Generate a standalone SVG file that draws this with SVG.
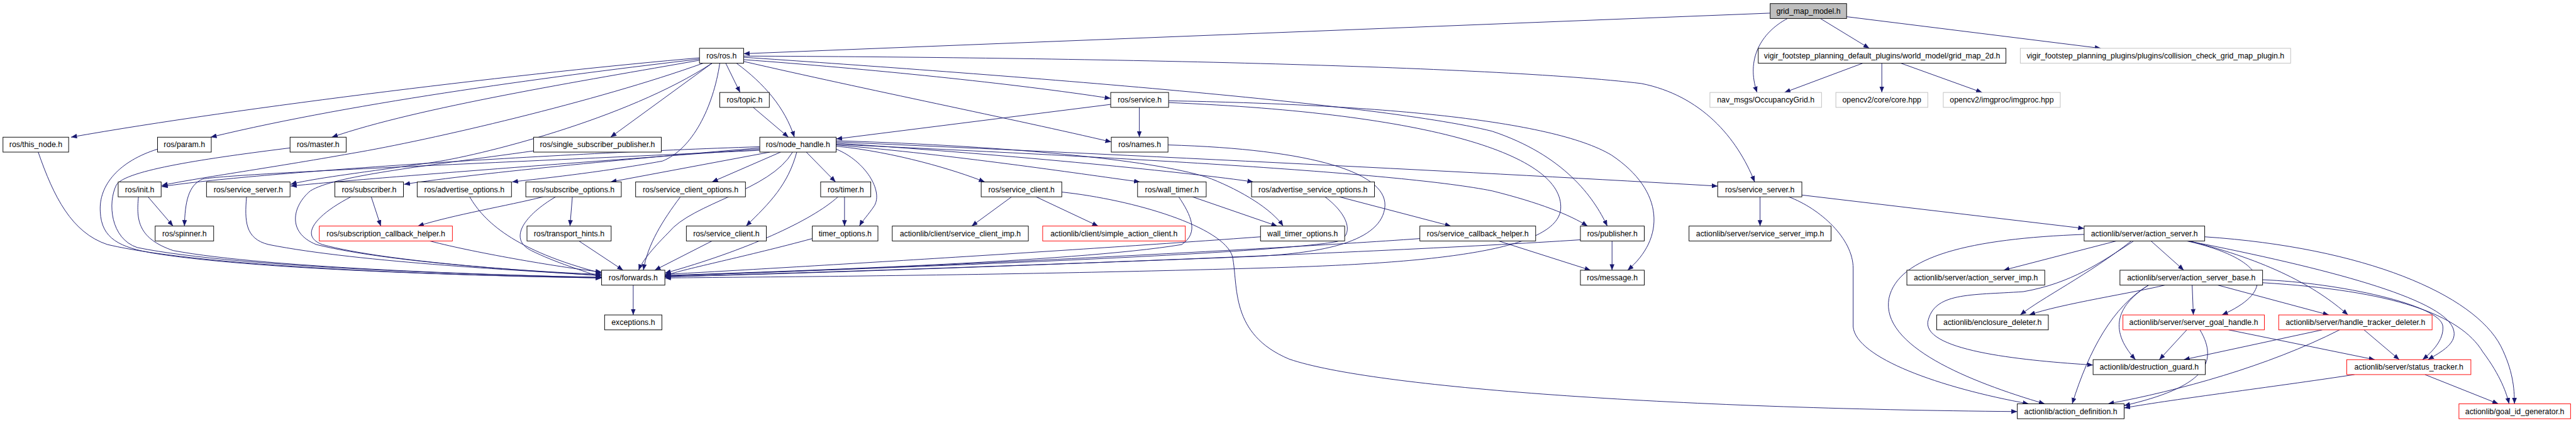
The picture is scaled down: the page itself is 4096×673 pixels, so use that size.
<svg xmlns="http://www.w3.org/2000/svg" width="4096" height="673" viewBox="0 0 4096 673">
<style>
.bg{fill:#fff}
.n rect{fill:#fff;stroke:#000;stroke-width:1}
.r rect{fill:#fff;stroke:#ff0000;stroke-width:1}
.g rect{fill:#fff;stroke:#bfbfbf;stroke-width:1}
.root rect{fill:#bfbfbf;stroke:#000;stroke-width:1}
text{font-family:"Liberation Sans",Arial,sans-serif;font-size:13px;text-anchor:middle;fill:#000}
#edges path{fill:none;stroke:#191970;stroke-width:1;marker-end:url(#a)}
</style>
<defs>
<marker id="a" markerWidth="10" markerHeight="8" refX="10" refY="4" orient="auto" markerUnits="userSpaceOnUse"><path d="M0,0 L10,4 L0,8 z" fill="#191970"/></marker>
</defs>
<rect class="bg" x="0" y="0" width="4096" height="673"/>
<g transform="scale(0.949)">
<g id="edges">
<path d="M2966,22 L1246,90"/>
<path d="M2995,31 C2950,55 2925,100 2944,155"/>
<path d="M3050,31 L3132,81"/>
<path d="M3094,28 L3520,81"/>
<path d="M3121,106 L2990,155"/>
<path d="M3153,106 L3153,155"/>
<path d="M3185,106 L3321,155"/>
<path d="M1172,97 C900,120 400,180 119,230"/>
<path d="M1172,99 C950,125 600,170 353,230"/>
<path d="M1172,101 C980,135 700,180 556,230"/>
<path d="M1178,106 C1000,170 720,235 590,257 C450,282 320,300 271,311"/>
<path d="M1193,106 C1050,200 800,262 720,273 C600,290 520,300 487,309"/>
<path d="M1193,106 L1023,230"/>
<path d="M1216,106 L1240,155"/>
<path d="M1234,106 C1280,140 1315,180 1331,230"/>
<path d="M1262,180 L1321,230"/>
<path d="M1206,106 C1195,180 1160,250 1110,270 C1000,290 900,300 858,305"/>
<path d="M1246,100 C1450,115 1700,140 1861,165"/>
<path d="M1246,103 C1450,150 1700,200 1862,238"/>
<path d="M1246,96 C1600,120 2300,170 2500,220 C2620,260 2670,330 2693,379"/>
<path d="M1246,94 C1800,96 2500,110 2750,140 C2850,160 2910,230 2940,305"/>
<path d="M1861,175 L1401,233"/>
<path d="M1909,180 L1909,230"/>
<path d="M1958,169 C2300,175 2600,200 2700,260 C2790,320 2790,400 2727,453"/>
<path d="M1958,172 C2400,190 2620,260 2615,350 C2610,420 2400,440 2160,448 C1700,462 1300,464 1114,466"/>
<path d="M1957,243 C2200,250 2330,290 2320,350 C2310,410 2200,425 2100,430 C1600,450 1250,460 1114,464"/>
<path d="M1328,255 C1290,320 1160,340 1120,390 C1090,420 1075,440 1070,453"/>
<path d="M1335,255 C1320,310 1290,340 1250,379"/>
<path d="M1351,255 L1400,305"/>
<path d="M1308,255 L1193,305"/>
<path d="M1290,255 L1023,305"/>
<path d="M1273,248 C1100,262 800,290 677,309"/>
<path d="M1273,250 C1000,270 600,300 487,312"/>
<path d="M1273,246 C900,258 400,292 271,313"/>
<path d="M1273,252 C900,270 400,290 340,300 C315,310 310,340 309,379"/>
<path d="M1401,245 C1500,255 1600,285 1650,305"/>
<path d="M1401,243 C1600,260 1800,290 1910,305"/>
<path d="M1401,240 C1700,260 2000,290 2100,305"/>
<path d="M1401,238 C1900,260 2500,290 2878,312"/>
<path d="M1401,242 C1900,265 2350,290 2500,320 C2580,340 2630,360 2660,379"/>
<path d="M1401,250 C1450,270 1480,320 1465,345 C1455,360 1445,370 1440,379"/>
<path d="M1401,236 C1700,245 1950,270 2030,300 C2080,320 2130,350 2150,379"/>
<path d="M1415,330 L1415,379"/>
<path d="M1404,330 C1360,370 1250,420 1114,458"/>
<path d="M1361,400 C1250,430 1150,450 1114,462"/>
<path d="M1998,330 L2140,379"/>
<path d="M1975,330 C1995,360 2010,390 1980,410 C1800,440 1300,455 1114,462"/>
<path d="M2112,397 C1800,420 1300,450 1114,460"/>
<path d="M1695,330 L1628,379"/>
<path d="M1736,330 L1840,379"/>
<path d="M1779,322 C1900,335 2050,380 2065,430 C2075,480 2060,560 2160,602 C2300,650 2800,685 3380,690"/>
<path d="M2220,330 C2260,360 2270,395 2240,405 C2100,430 1300,455 1114,463"/>
<path d="M2244,330 L2431,379"/>
<path d="M2379,400 C2100,420 1400,455 1114,462"/>
<path d="M2511,404 L2665,453"/>
<path d="M2648,402 C2300,425 1400,458 1114,464"/>
<path d="M2701,404 L2701,453"/>
<path d="M622,330 L638,379"/>
<path d="M588,330 C530,360 500,395 540,410 C650,440 900,455 1008,462"/>
<path d="M910,330 C850,345 760,360 700,379"/>
<path d="M959,330 L955,379"/>
<path d="M931,330 C880,360 850,400 890,420 C930,440 980,455 1008,465"/>
<path d="M787,330 C810,370 860,420 1008,458"/>
<path d="M720,404 C800,425 950,450 1008,456"/>
<path d="M970,404 L1044,453"/>
<path d="M1193,404 L1097,453"/>
<path d="M1140,330 C1110,370 1085,410 1078,453"/>
<path d="M413,330 C410,370 410,400 450,410 C600,440 900,455 1008,462"/>
<path d="M232,330 C228,370 232,400 290,420 C450,450 850,462 1008,465"/>
<path d="M248,330 L290,379"/>
<path d="M64,255 C90,330 120,390 180,410 C350,450 800,463 1008,466"/>
<path d="M264,250 C200,270 165,310 168,355 C170,400 200,415 260,425 C450,455 850,463 1008,466"/>
<path d="M486,248 C350,265 210,285 195,310 C180,340 185,400 230,415 C400,450 850,462 1008,465"/>
<path d="M894,253 C700,280 560,295 520,320 C490,345 480,390 530,410 C650,440 900,456 1008,460"/>
<path d="M1061,478 L1061,528"/>
<path d="M2949,330 L2949,379"/>
<path d="M3019,327 L3492,383"/>
<path d="M2997,330 C3050,350 3105,400 3105,450 L3105,548 C3110,600 3250,650 3399,677"/>
<path d="M3546,404 L3357,453"/>
<path d="M3492,393 C3300,400 3180,430 3165,500 C3150,580 3300,640 3426,677"/>
<path d="M3571,404 C3500,460 3420,500 3385,528"/>
<path d="M3575,404 C3520,440 3470,475 3390,489 C3300,495 3240,490 3230,540 C3225,590 3400,605 3507,612"/>
<path d="M3604,404 L3659,453"/>
<path d="M3664,404 C3780,430 3830,480 3723,528"/>
<path d="M3668,404 C3800,437 3880,480 3934,528"/>
<path d="M3666,404 C3900,450 4090,500 4110,550 C4120,575 4090,590 4068,603"/>
<path d="M3694,397 C3963,415 4145,494 4190,580 C4210,620 4213,650 4213,677"/>
<path d="M3673,478 L3675,528"/>
<path d="M3716,478 L3902,528"/>
<path d="M3791,469 C3918,474 4090,511 4093,547 C4095,570 4075,590 4059,603"/>
<path d="M3791,474 C4009,487 4122,527 4160,590 C4190,630 4200,660 4204,677"/>
<path d="M3627,478 C3580,490 3450,510 3400,528"/>
<path d="M3600,478 C3550,510 3530,550 3578,603"/>
<path d="M3600,478 C3540,514 3500,587 3472,677"/>
<path d="M3664,553 L3618,603"/>
<path d="M3734,553 L3979,603"/>
<path d="M3686,553 C3720,610 3690,650 3559,680"/>
<path d="M3891,553 L3659,603"/>
<path d="M3961,553 L4020,603"/>
<path d="M3920,553 C3800,614 3650,655 3532,677"/>
<path d="M4063,628 L4186,677"/>
<path d="M3945,628 C3800,650 3650,668 3559,684"/>
</g>
<g id="n_root" class="root"><rect x="2966" y="6" width="128" height="25"/><text x="3030" y="23">grid_map_model.h</text></g>
<g id="n_ros" class="n"><rect x="1172" y="81" width="74" height="25"/><text x="1209" y="98">ros/ros.h</text></g>
<g id="n_vigir_def" class="n"><rect x="2946" y="81" width="415" height="25"/><text x="3153.5" y="98">vigir_footstep_planning_default_plugins/world_model/grid_map_2d.h</text></g>
<g id="n_vigir_plug" class="g"><rect x="3385" y="81" width="453" height="25"/><text x="3611.5" y="98">vigir_footstep_planning_plugins/plugins/collision_check_grid_map_plugin.h</text></g>
<g id="n_topic" class="n"><rect x="1206" y="155" width="83" height="25"/><text x="1247.5" y="172">ros/topic.h</text></g>
<g id="n_service" class="n"><rect x="1861" y="155" width="97" height="25"/><text x="1909.5" y="172">ros/service.h</text></g>
<g id="n_nav" class="g"><rect x="2865" y="155" width="187" height="25"/><text x="2958.5" y="172">nav_msgs/OccupancyGrid.h</text></g>
<g id="n_cvcore" class="g"><rect x="3076" y="155" width="154" height="25"/><text x="3153" y="172">opencv2/core/core.hpp</text></g>
<g id="n_cvimg" class="g"><rect x="3256" y="155" width="196" height="25"/><text x="3354" y="172">opencv2/imgproc/imgproc.hpp</text></g>
<g id="n_this_node" class="n"><rect x="5" y="230" width="110" height="25"/><text x="60" y="247">ros/this_node.h</text></g>
<g id="n_param" class="n"><rect x="264" y="230" width="90" height="25"/><text x="309" y="247">ros/param.h</text></g>
<g id="n_master" class="n"><rect x="486" y="230" width="94" height="25"/><text x="533" y="247">ros/master.h</text></g>
<g id="n_ssp" class="n"><rect x="894" y="230" width="214" height="25"/><text x="1001" y="247">ros/single_subscriber_publisher.h</text></g>
<g id="n_node_handle" class="n"><rect x="1273" y="230" width="128" height="25"/><text x="1337" y="247">ros/node_handle.h</text></g>
<g id="n_names" class="n"><rect x="1862" y="230" width="95" height="25"/><text x="1909.5" y="247">ros/names.h</text></g>
<g id="n_init" class="n"><rect x="198" y="305" width="72" height="25"/><text x="234" y="322">ros/init.h</text></g>
<g id="n_service_server_l" class="n"><rect x="346" y="305" width="140" height="25"/><text x="416" y="322">ros/service_server.h</text></g>
<g id="n_subscriber" class="n"><rect x="561" y="305" width="115" height="25"/><text x="618.5" y="322">ros/subscriber.h</text></g>
<g id="n_advertise_options" class="n"><rect x="699" y="305" width="158" height="25"/><text x="778" y="322">ros/advertise_options.h</text></g>
<g id="n_subscribe_options" class="n"><rect x="881" y="305" width="160" height="25"/><text x="961" y="322">ros/subscribe_options.h</text></g>
<g id="n_service_client_options" class="n"><rect x="1065" y="305" width="184" height="25"/><text x="1157" y="322">ros/service_client_options.h</text></g>
<g id="n_timer" class="n"><rect x="1375" y="305" width="84" height="25"/><text x="1417" y="322">ros/timer.h</text></g>
<g id="n_service_client_u" class="n"><rect x="1644" y="305" width="135" height="25"/><text x="1711.5" y="322">ros/service_client.h</text></g>
<g id="n_wall_timer" class="n"><rect x="1906" y="305" width="115" height="25"/><text x="1963.5" y="322">ros/wall_timer.h</text></g>
<g id="n_adv_srv_options" class="n"><rect x="2097" y="305" width="206" height="25"/><text x="2200" y="322">ros/advertise_service_options.h</text></g>
<g id="n_service_server_r" class="n"><rect x="2878" y="305" width="141" height="25"/><text x="2948.5" y="322">ros/service_server.h</text></g>
<g id="n_spinner" class="n"><rect x="260" y="379" width="98" height="25"/><text x="309" y="396">ros/spinner.h</text></g>
<g id="n_sub_cb_helper" class="r"><rect x="535" y="379" width="223" height="25"/><text x="646.5" y="396">ros/subscription_callback_helper.h</text></g>
<g id="n_transport_hints" class="n"><rect x="883" y="379" width="141" height="25"/><text x="953.5" y="396">ros/transport_hints.h</text></g>
<g id="n_service_client_l" class="n"><rect x="1150" y="379" width="134" height="25"/><text x="1217" y="396">ros/service_client.h</text></g>
<g id="n_timer_options" class="n"><rect x="1361" y="379" width="110" height="25"/><text x="1416" y="396">timer_options.h</text></g>
<g id="n_sc_imp" class="n"><rect x="1495" y="379" width="228" height="25"/><text x="1609" y="396">actionlib/client/service_client_imp.h</text></g>
<g id="n_sac" class="r"><rect x="1747" y="379" width="239" height="25"/><text x="1866.5" y="396">actionlib/client/simple_action_client.h</text></g>
<g id="n_wall_timer_options" class="n"><rect x="2112" y="379" width="141" height="25"/><text x="2182.5" y="396">wall_timer_options.h</text></g>
<g id="n_srv_cb_helper" class="n"><rect x="2379" y="379" width="194" height="25"/><text x="2476" y="396">ros/service_callback_helper.h</text></g>
<g id="n_publisher" class="n"><rect x="2648" y="379" width="107" height="25"/><text x="2701.5" y="396">ros/publisher.h</text></g>
<g id="n_ss_imp" class="n"><rect x="2830" y="379" width="238" height="25"/><text x="2949" y="396">actionlib/server/service_server_imp.h</text></g>
<g id="n_action_server" class="n"><rect x="3492" y="379" width="202" height="25"/><text x="3593" y="396">actionlib/server/action_server.h</text></g>
<g id="n_forwards" class="n"><rect x="1008" y="453" width="106" height="25"/><text x="1061" y="470">ros/forwards.h</text></g>
<g id="n_message" class="n"><rect x="2648" y="453" width="107" height="25"/><text x="2701.5" y="470">ros/message.h</text></g>
<g id="n_as_imp" class="n"><rect x="3195" y="453" width="231" height="25"/><text x="3310.5" y="470">actionlib/server/action_server_imp.h</text></g>
<g id="n_as_base" class="n"><rect x="3552" y="453" width="239" height="25"/><text x="3671.5" y="470">actionlib/server/action_server_base.h</text></g>
<g id="n_exceptions" class="n"><rect x="1013" y="528" width="96" height="25"/><text x="1061" y="545">exceptions.h</text></g>
<g id="n_enclosure" class="n"><rect x="3245" y="528" width="187" height="25"/><text x="3338.5" y="545">actionlib/enclosure_deleter.h</text></g>
<g id="n_sgh" class="r"><rect x="3557" y="528" width="237" height="25"/><text x="3675.5" y="545">actionlib/server/server_goal_handle.h</text></g>
<g id="n_htd" class="r"><rect x="3818" y="528" width="257" height="25"/><text x="3946.5" y="545">actionlib/server/handle_tracker_deleter.h</text></g>
<g id="n_dg" class="n"><rect x="3507" y="603" width="188" height="25"/><text x="3601" y="620">actionlib/destruction_guard.h</text></g>
<g id="n_st" class="r"><rect x="3932" y="603" width="208" height="25"/><text x="4036" y="620">actionlib/server/status_tracker.h</text></g>
<g id="n_ad" class="n"><rect x="3380" y="677" width="179" height="25"/><text x="3469.5" y="694">actionlib/action_definition.h</text></g>
<g id="n_gid" class="r"><rect x="4120" y="677" width="187" height="25"/><text x="4213.5" y="694">actionlib/goal_id_generator.h</text></g>
</g>
</svg>
